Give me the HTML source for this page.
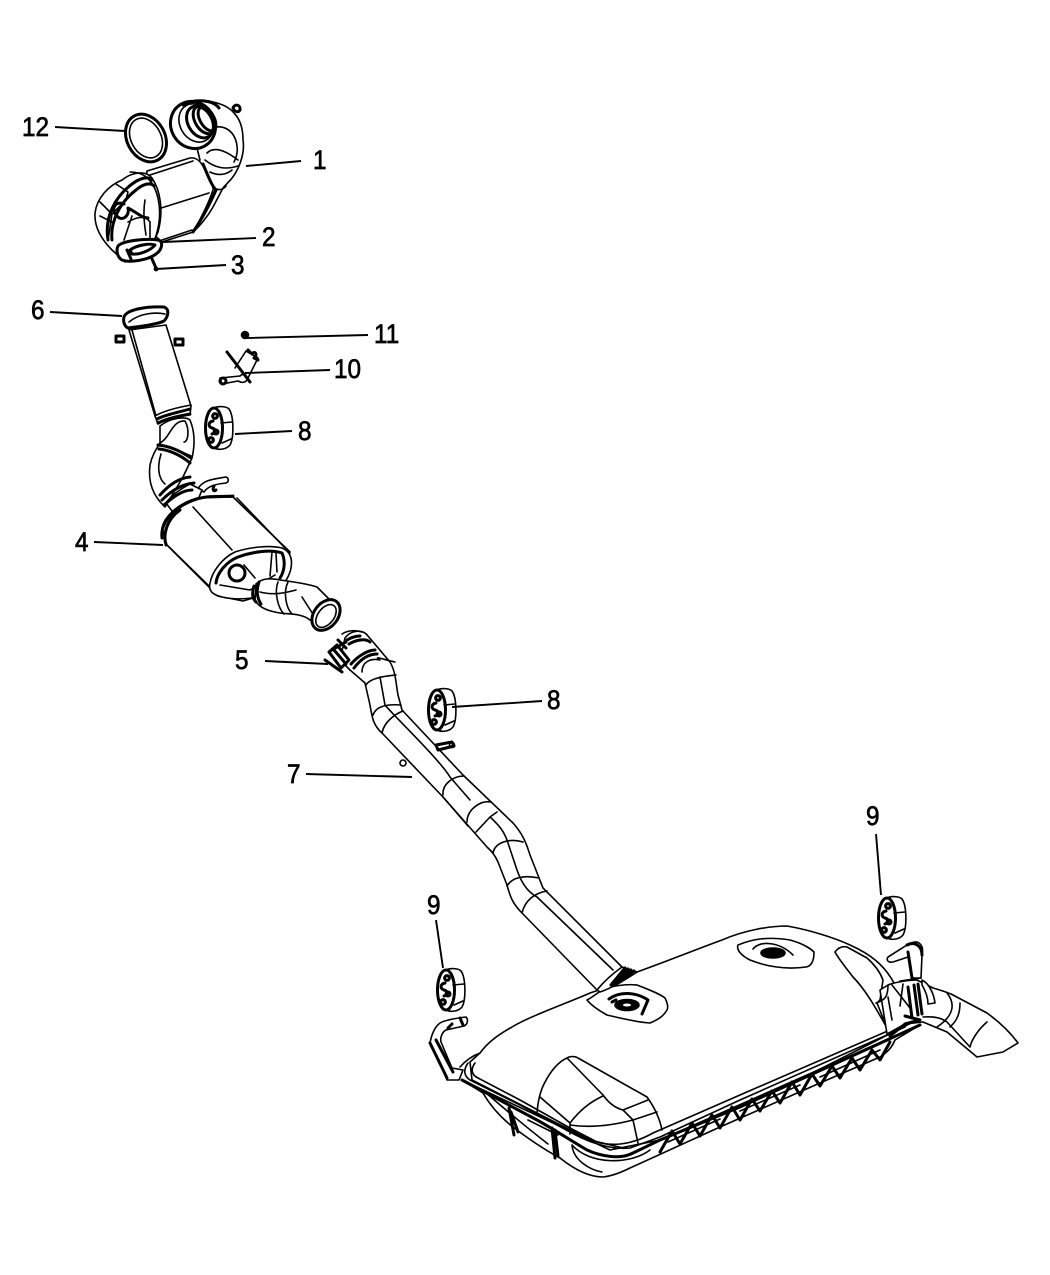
<!DOCTYPE html>
<html><head><meta charset="utf-8"><style>
html,body{margin:0;padding:0;background:#fff;width:1050px;height:1275px;overflow:hidden}
svg{display:block}
text{font-family:"Liberation Sans",sans-serif;font-size:27px;fill:#000;stroke:#000;stroke-width:.7;transform-box:fill-box;transform-origin:left center;transform:scaleX(.9)}
.l{stroke:#000;stroke-width:1.9;fill:none}
g.d path,g.d ellipse,g.d circle{stroke:#000;stroke-width:1.6;stroke-linejoin:round;stroke-linecap:round}
g.d .n{fill:none}g.d .w{fill:#fff}g.d .h{stroke-width:3}g.d .b{fill:#000}
</style></head><body>
<svg width="1050" height="1275" viewBox="0 0 1050 1275" xmlns="http://www.w3.org/2000/svg">
<defs>
<g id="gr" class="d">
<path class="w" d="M0-20C4-22 12-22 15-19C20-12 20 10 16 17C12 22 4 22 0 20Z"/>
<ellipse class="w h" cx="0" cy="0" rx="8.5" ry="20"/>
<path class="n" d="M7-5L18-6M8 15L17 11"/>
<circle class="n h" cx="1" cy="-12" r="2.4"/><circle class="n h" cx="-3" cy="12" r="2.4"/><circle class="n h" cx="2" cy="4" r="2"/>
<path class="n h" d="M-1-7C-6-6-6-1-2 0C2 1 2 5-2 6"/>
</g>
</defs>
<g class="d">
<!-- 12 ring -->
<ellipse class="n h" cx="146" cy="138" rx="19" ry="25" transform="rotate(-28 146 138)"/>
<ellipse class="n" cx="146" cy="138" rx="15" ry="21" transform="rotate(-28 146 138)"/>
<!-- 1 downpipe -->
<path class="w" d="M190 106C198 100 207 100 213 102C222 104 230 108 234 113C241 120 243 130 243 140C245 152 240 165 236 172C232 180 226 184 223 188L213 207C208 216 200 226 193 232L160 242L125 225L200 160L195 140Z"/>
<path class="n" d="M208 130C222 122 235 130 237 146C238 152 236 158 234 162M207 153C214 146 225 150 238 160M205 160C215 168 225 170 238 166M210 172C218 176 226 175 232 170M213 187C218 191 223 190 226 186"/>
<path class="n h" d="M216 190L205 212M210 186L198 208"/>
<path class="n h" d="M233 108C235 103 241 105 240 110C238 113 235 112 233 108Z"/>
<ellipse class="w h" cx="193" cy="125" rx="22" ry="24" transform="rotate(-30 193 125)"/>
<ellipse class="n" cx="196" cy="123" rx="16" ry="20" transform="rotate(-30 196 123)"/>
<ellipse class="n h" cx="200" cy="122" rx="12" ry="17" transform="rotate(-30 200 122)"/>
<ellipse class="n h" cx="204" cy="120" rx="9" ry="15" transform="rotate(-30 204 120)"/>
<ellipse class="n h" cx="207" cy="119" rx="7" ry="13" transform="rotate(-30 207 119)"/>
<path class="n h" d="M183 105C195 98 213 100 219 108"/>
<!-- 2 cat body -->
<path class="w" d="M147 171L190 158C197 157 201 162 204 168C208 178 214 186 213 190C208 205 200 220 193 232L162 242L140 222Z"/>
<path class="n" d="M150 175L193 161M158 209L209 193M162 240L192 230"/>
<path class="n h" d="M203 164C208 176 212 186 216 190C208 208 200 222 193 232"/>
<path class="w" d="M95 213C97 198 108 186 122 180C132 172 146 170 152 178C160 190 164 210 158 232L152 245L125 262L112 250C102 240 94 228 95 213Z"/>
<path class="n" d="M100 202L112 214L108 240M116 184L128 192L126 200L112 214M100 216L112 222M130 172C146 172 154 182 158 198C162 216 158 234 152 245"/>
<path class="n h" d="M108 240C104 216 116 196 132 184C140 178 148 176 152 180"/>
<path class="n h" d="M112 240C110 222 120 202 136 190C143 184 150 182 154 186"/>
<path class="n h" d="M124 204C115 200 110 210 117 216C122 222 130 216 128 208C136 212 142 218 148 218"/>
<path class="n" d="M145 200C143 212 144 222 146 235M128 222C138 216 146 216 150 222L150 240M132 216L124 240"/>
<path class="w h" d="M118 246C122 241 145 238 158 240C164 241 162 250 156 254C148 260 130 263 122 260C117 257 116 250 118 246Z"/>
<path class="n h" d="M130 250C137 245 150 243 155 245C151 250 140 255 132 254ZM127 250L131 259"/>
<path class="n h" d="M152 259L156 268"/><circle class="b" cx="156" cy="269" r="1.6"/>

<!-- 6 inlet tube -->
<path class="w" d="M129 330L155 416L191 406L166 325Z"/>
<path class="n" d="M132 330L156 416"/>
<path class="w h" d="M124 317C126 310 145 306 164 307C170 309 168 317 164 321C156 325 135 327 128 328C124 326 123 321 124 317Z"/>
<path class="n" d="M129 322C140 313 155 312 165 314"/>
<path class="n h" d="M116 336H124V342H116ZM175 339H183V345H175Z"/>
<path class="w" d="M155 416C165 410 180 407 191 405L190 415C180 416 165 420 158 424Z"/>
<path class="n h" d="M157 419C167 414 180 412 190 409M158 423C168 418 180 416 190 414"/>
<!-- bend -->
<path class="w" d="M160 426C170 418 185 416 190 420C195 432 195 445 192 458L183 477L165 507C152 495 148 480 150 465C152 455 157 448 160 443Z"/>
<path class="n" d="M160 443C170 438 172 420 185 421C190 430 188 442 184 442M159 444C168 446 178 450 191 456M161 454C156 470 160 480 165 484"/>
<path class="n h" d="M159 449C170 450 182 456 190 463M158 445C170 446 182 452 191 458"/>
<!-- hanger -->
<path class="w" d="M198 489C202 480 214 479 226 477C229 478 229 482 226 483C216 484 208 486 204 492Z"/>
<path class="n h" d="M214 486C212 490 214 492 216 490"/>
<!-- 4 muffler -->
<path class="w" d="M166 503C172 494 184 487 190 484L202 490L197 502L175 515Z"/>
<path class="n h" d="M160 495C168 486 178 478 190 477M162 500C172 490 182 484 194 483M164 505C172 498 182 490 192 490"/>
<path class="w" d="M162 528C164 518 176 504 197 498L233 497L290 552L280 590L243 601L218 596L167 545Z"/>
<path class="n" d="M193 507L232 550M237 498L285 548M168 546L210 587"/>
<path class="n h" d="M162 538C160 522 175 506 197 499C210 495 225 497 233 496"/>
<path class="n h" d="M166 545C163 535 166 520 180 510"/>
<path class="w" d="M210 583C212 572 222 558 235 552C250 547 270 545 282 548C292 552 293 562 290 572C286 584 278 590 270 592C255 600 235 600 222 597C214 595 208 592 210 583Z"/>
<path class="n h" d="M216 583C217 573 226 562 238 557C252 552 270 549 282 553C286 562 284 572 280 578"/>
<path class="n" d="M220 585L250 590L275 575M276 553L277 572M272 552L270 576"/>
<circle class="n h" cx="237" cy="573" r="8"/>
<path class="n" d="M244 565L255 578"/>
<!-- outlet -->
<path class="w" d="M256 584C262 578 270 578 280 580C295 582 308 584 317 587L338 608L320 628L310 620C300 612 285 615 275 612C265 610 258 606 255 600Z"/>
<path class="n h" d="M254 586C252 592 252 598 256 602M259 582C256 590 257 598 261 604"/>
<path class="n" d="M260 592C275 596 288 592 296 590M278 582C274 592 278 608 284 614M288 582C283 592 286 608 292 614M302 597L318 622"/>
<ellipse class="w h" cx="326" cy="615" rx="12" ry="17" transform="rotate(38 326 615)"/>
<ellipse class="n" cx="326" cy="616" rx="8" ry="13" transform="rotate(38 326 616)"/>

<!-- 11 / 10 -->
<circle class="b" cx="245" cy="335" r="3.5"/>
<path class="n h" d="M227 352L250 382"/>
<path class="n" d="M235 368L246 351L258 358L248 378"/>
<path class="n h" d="M248 350L252 354C255 350 258 355 254 358L258 360"/>
<path class="n" d="M220 378L240 376C244 372 248 376 247 380C244 384 240 382 238 381L222 384Z"/>
<circle class="n h" cx="223" cy="381" r="3"/>

<!-- 7 pipe -->
<path class="w" d="M345 638C350 631 362 628 368 636L390 662C396 672 396 685 398 695L402 710L463 775L513 823C522 833 526 842 530 855L543 888L622 967L597 990L522 913C512 903 510 896 507 885L498 862C494 853 490 850 487 847L443 797L382 733C373 725 372 717 370 705L365 683L350 670L340 660Z"/>
<path class="n" d="M380 677L385 705C392 714 440 760 450 777L470 800M490 817C500 826 504 832 507 840L517 870C523 887 530 893 537 897L613 970M476 832L490 817L497 812M443 797L468 826"/>
<path class="n" d="M362 672C362 662 370 658 380 660C372 655 385 660 395 662M366 685C370 678 385 676 396 675M373 715C376 706 388 704 401 705M382 733C384 722 395 714 403 711M443 795C442 785 452 776 464 776M467 822C467 810 480 800 491 802M493 853C495 842 510 838 523 842M507 886C512 877 525 875 539 878M522 913C525 900 535 893 547 891"/>
<path class="n h" d="M349 644C356 640 365 638 370 642M351 664C358 656 368 650 375 650M354 668C360 660 368 654 377 654M347 640C352 637 356 636 360 636"/>
<path class="n h" d="M436 745L452 742L454 746L438 750Z"/><circle class="n" cx="452" cy="745" r="2.5"/>
<circle class="n" cx="403" cy="763" r="3"/>
<!-- 5 clamp -->
<path class="w h" d="M329 652L337 645L349 660L341 668Z"/>
<path class="n h" d="M325 660L342 672M332 650L346 642M334 650L346 664M338 640L346 648"/>
<path class="n" d="M342 634C348 630 356 630 362 632"/>

<!-- Tank -->
<path class="w" d="M637 972C670 960 700 948 722 940C745 930 770 926 787 926C810 930 835 938 850 945C870 954 885 965 895 985L917 1020L680 1140L640 1152L590 1140L472 1080L470 1062L480 1053C488 1042 498 1035 512 1027C530 1016 570 1002 590 993L605 988Z"/>
<!-- bottom -->
<path class="w" d="M462 1080L483 1093C490 1105 500 1117 513 1127C530 1140 545 1150 560 1158C575 1170 590 1177 603 1177C612 1176 622 1172 630 1168L720 1127L820 1083L880 1057C888 1052 892 1047 895 1040L920 1025L660 1140L610 1150Z"/>
<path class="n h" d="M509 1108L514 1135M511 1112L518 1132M552 1128L555 1158M555 1130L558 1156"/>
<path class="n" d="M485 1092C500 1105 530 1130 548 1144M572 1145C573 1160 590 1170 602 1172M572 1145C590 1165 630 1165 650 1150M528 1120L558 1135"/>
<path class="n h" d="M660 1152L672 1131L680 1144L692 1123L700 1136L712 1115L720 1128L732 1107L740 1120L752 1099L760 1111L772 1091L780 1103L792 1082L800 1095L812 1074L820 1086L832 1066L840 1078L852 1058L860 1070L872 1050L880 1060L890 1042"/>
<path class="n" d="M668 1142L720 1119M740 1111L800 1085M820 1077L880 1050"/>
<!-- band -->
<path class="n h" d="M462 1080L537 1120C555 1130 570 1140 587 1150C600 1156 620 1160 633 1153L660 1140L740 1107L920 1025"/>
<path class="n" d="M468 1063C463 1070 464 1076 470 1080L520 1105L570 1132C590 1143 610 1150 630 1148L660 1137L740 1100L905 1027"/>
<path class="n" d="M475 1063C470 1070 472 1075 478 1078L520 1100L570 1128L597 1142C610 1146 630 1146 653 1133L740 1095L890 1030"/>
<path class="n" d="M460 1067C466 1060 472 1056 480 1053"/>
<!-- bump left -->
<path class="n" d="M537 1113C538 1100 540 1092 544 1084C550 1072 558 1062 567 1058C570 1056 575 1056 578 1058L647 1097C655 1108 660 1120 662 1130M567 1058L603 1095C608 1102 615 1108 623 1110L648 1100M540 1097L570 1123M570 1123C580 1110 590 1102 603 1096M570 1125C590 1128 610 1126 633 1120L657 1112M623 1110L633 1120L638 1143M570 1123L570 1134"/>
<!-- filler left -->
<path class="n" d="M587 1000C595 996 600 990 607 988C618 985 628 984 637 985C650 990 660 994 665 998C668 1004 668 1008 667 1010C663 1017 657 1020 650 1023C635 1022 620 1018 607 1015C598 1010 591 1005 587 1000Z"/>
<ellipse class="b" cx="627" cy="1005" rx="12" ry="5.5"/><ellipse class="w" cx="627" cy="1005" rx="5" ry="2.3"/>
<path class="n h" d="M609 999C620 991 636 992 648 1000L642 1014M612 1002L616 1000"/>
<!-- filler right -->
<path class="n" d="M738 945C750 940 765 936 790 940C805 944 812 950 814 952C814 960 812 966 806 967C785 970 765 966 750 960C742 956 736 950 738 945Z"/>
<ellipse class="b" cx="773" cy="953" rx="12" ry="5"/>
<path class="n" d="M753 949C760 940 780 942 793 955"/>
<!-- right bump -->
<path class="w" d="M835 952C838 948 842 946 847 947L867 958C875 965 880 972 883 980L880 1000L877 1003L887 1028C878 1012 866 990 853 977C846 968 838 958 835 952Z"/>
<!-- collector & tail -->
<path class="w" d="M880 990L888 985C895 982 910 980 917 980L933 988C940 990 947 992 953 995L987 1013C998 1021 1010 1032 1018 1043L1003 1052L977 1057L947 1032L923 1022L905 1024L887 1034Z"/>
<path class="n" d="M947 993C955 1003 955 1015 937 1027M960 1003C960 1012 958 1020 950 1027M987 1022C980 1028 972 1038 970 1047M923 1017C935 1016 942 1018 947 1022L970 1047M876 1003C885 1000 888 997 888 985M892 985L910 1008M903 984L900 1006M888 997L892 1020"/>
<path class="n h" d="M914 985L918 1015M918 984L922 1014M908 987L912 1018"/>
<path class="w" d="M922 980C930 984 934 995 935 1003L928 1004C928 997 925 990 922 985Z"/>
<path class="n h" d="M890 1036L905 1024L920 1020L905 1016"/>
<!-- right hanger -->
<path class="w" d="M888 957L907 945C912 942 917 941 919 943C923 946 923 950 922 955L921 978L912 978L908 957L893 962C888 963 886 960 888 957Z"/>
<path class="n h" d="M907 945C915 941 922 946 922 955M908 952L912 978"/>
<path class="n" d="M900 981L921 978"/>
<!-- pipe junction -->
<path class="w" d="M622 967C615 972 605 980 597 990L600 992C612 988 625 980 637 972Z"/>
<path class="n h" d="M611 985L625 968M614 985L628 969M617 984L631 970M620 982L634 971"/>
<!-- left hanger -->
<path class="w" d="M440 1023C445 1020 458 1018 466 1017C469 1020 467 1025 464 1026L446 1030C442 1032 440 1038 441 1042L452 1068L463 1070L459 1080L447 1080L443 1070L430 1043C432 1032 436 1026 440 1023Z"/>
<path class="n h" d="M430 1043L447 1078M436 1040L453 1072M448 1028L452 1024M460 1018L463 1025"/>
</g>
<use href="#gr" transform="translate(214 428)"/>
<use href="#gr" transform="translate(437 710)"/>
<use href="#gr" transform="translate(446 990)"/>
<use href="#gr" transform="translate(887 918)"/>

<!-- leaders -->
<path class="l" d="M55 127L125 131M246 166L301 161M163 242L256 238M156 269L226 265M50 312L122 316M247 338L368 335M245 373L330 370M235 434L292 431M94 542L163 545M265 661L328 664M452 707L542 701M306 774L412 777M876 834L881 895M436 920L443 968"/>
<text x="22" y="136">12</text>
<text x="313" y="169">1</text>
<text x="262" y="246">2</text>
<text x="231" y="274">3</text>
<text x="31" y="319">6</text>
<text x="374" y="343">11</text>
<text x="334" y="378">10</text>
<text x="298" y="440">8</text>
<text x="75" y="551">4</text>
<text x="235" y="669">5</text>
<text x="547" y="709">8</text>
<text x="287" y="783">7</text>
<text x="866" y="825">9</text>
<text x="427" y="914">9</text>
</svg>
</body></html>
